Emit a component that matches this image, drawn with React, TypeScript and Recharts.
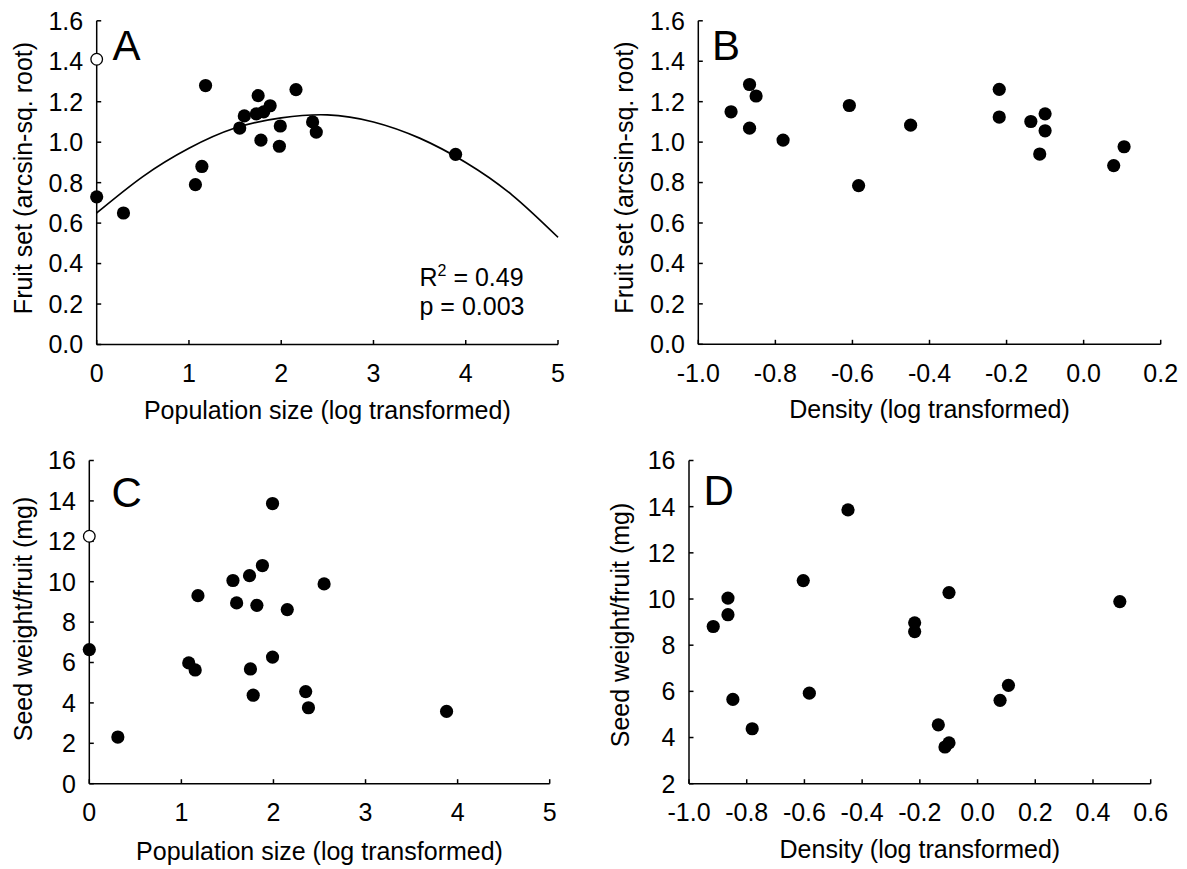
import React from 'react';
import { ComposedChart, Scatter, Line, XAxis, YAxis, Label, Customized } from 'recharts';

const FONT = '"Liberation Sans", Arial, Helvetica, sans-serif';
const FS = 25;

// ---------- Panel A: fruit set vs population size ----------
const popSizeA = [0, 0.29, 1.07, 1.14, 1.18, 1.55, 1.6, 1.75, 1.73, 1.81, 1.88, 1.78, 1.99, 1.98, 2.16, 2.34, 2.38, 3.89];
const fruitSetA = [0.73, 0.65, 0.79, 0.88, 1.28, 1.07, 1.13, 1.23, 1.14, 1.15, 1.18, 1.01, 1.08, 0.98, 1.26, 1.1, 1.05, 0.94];
const outlierPopSizeA = [0];
const outlierFruitSetA = [1.41];
// fitted quadratic curve
const fitPopSize = [0, 0.5, 1, 1.5, 2, 2.5, 3, 3.5, 4, 4.5, 5];
const fitFruitSet = [0.65, 0.83, 0.97, 1.07, 1.12, 1.135, 1.1, 1.02, 0.9, 0.74, 0.53];

// ---------- Panel B: fruit set vs density ----------
const densityB = [-0.915, -0.867, -0.85, -0.867, -0.78, -0.608, -0.584, -0.449, -0.219, -0.219, -0.137, -0.1, -0.1, -0.114, 0.078, 0.105];
const fruitSetB = [1.15, 1.285, 1.228, 1.069, 1.01, 1.181, 0.785, 1.084, 1.261, 1.124, 1.102, 1.14, 1.056, 0.941, 0.884, 0.977];

// ---------- Panel C: seed weight vs population size ----------
const popSizeC = [0, 0.31, 1.08, 1.15, 1.18, 1.56, 1.6, 1.74, 1.88, 1.82, 1.75, 1.78, 1.99, 1.99, 2.15, 2.55, 2.35, 2.38, 3.88];
const seedWeightC = [6.64, 2.31, 5.98, 5.63, 9.31, 10.06, 8.95, 10.3, 10.8, 8.83, 5.68, 4.38, 13.87, 6.27, 8.62, 9.89, 4.56, 3.76, 3.58];
const outlierPopSizeC = [0];
const outlierSeedWeightC = [12.25];

// ---------- Panel D: seed weight vs density ----------
const densityD = [-0.916, -0.865, -0.865, -0.848, -0.781, -0.604, -0.583, -0.449, -0.218, -0.218, -0.099, -0.136, -0.113, -0.099, 0.078, 0.107, 0.493];
const seedWeightD = [8.81, 10.04, 9.32, 5.65, 4.38, 10.8, 5.92, 13.86, 8.97, 8.59, 10.28, 4.55, 3.59, 3.77, 5.61, 6.26, 9.89];

// ---------- ticks ----------
const popTicks = [0, 1, 2, 3, 4, 5];
const fruitTicks = [0, 0.2, 0.4, 0.6, 0.8, 1.0, 1.2, 1.4, 1.6];
const densityTicksB = [-1.0, -0.8, -0.6, -0.4, -0.2, 0, 0.2];
const densityTicksD = [-1.0, -0.8, -0.6, -0.4, -0.2, 0, 0.2, 0.4, 0.6];
const seedTicksC = [0, 2, 4, 6, 8, 10, 12, 14, 16];
const seedTicksD = [2, 4, 6, 8, 10, 12, 14, 16];

const zip = (xs: number[], ys: number[]) => xs.map((x, i) => ({ x, y: ys[i] }));

const FilledDot = (p: any) => <circle cx={p.cx} cy={p.cy} r={6.6} fill="#000" />;
const OpenDot = (p: any) => (
  <circle cx={p.cx} cy={p.cy} r={5.8} fill="#fff" stroke="#000" strokeWidth={1.3} />
);

const tickStyle = { fill: '#000', fontSize: FS, fontFamily: FONT };
const axisLineStyle = { stroke: '#000', strokeWidth: 1.5 };
const tickLineStyle = { stroke: '#000', strokeWidth: 1.5 };
const fmt1 = (v: number) => (Math.abs(v) < 1e-9 ? '0.0' : v.toFixed(1));
const fmt0 = (v: number) => String(v);

type PanelProps = {
  left: number;
  top: number;
  width: number;
  height: number;
  plot: { L: number; R: number; T: number; B: number };
  xDomain: [number, number];
  xTicks: number[];
  xFmt: (v: number) => string;
  yDomain: [number, number];
  yTicks: number[];
  yFmt: (v: number) => string;
  xTitle: string;
  yTitle: string;
  xTitleBaseline: number;
  yTitleX: number;
  yTitleY: number;
  points: { x: number; y: number }[];
  open?: { x: number; y: number }[];
  fit?: { x: number; y: number }[];
  letter: string;
  letterX: number;
  letterY: number;
  stats?: boolean;
};

function Panel(p: PanelProps) {
  const yAxisWidth = p.plot.L - p.left;
  const xAxisHeight = p.top + p.height - p.plot.B;
  const margin = { top: p.plot.T - p.top, right: p.left + p.width - p.plot.R, left: 0, bottom: 0 };
  const yCenterX = p.left + yAxisWidth / 2;
  const yCenterY = (p.plot.T + p.plot.B) / 2;
  const Extra = () => (
    <g>
      <text
        x={p.letterX - p.left}
        y={p.letterY - p.top}
        fontSize={42}
        fontFamily={FONT}
        fill="#000"
      >
        {p.letter}
      </text>
      {p.stats ? (
        <g>
          <text x={419.5 - p.left} y={286 - p.top} fontSize={FS} fontFamily={FONT} fill="#000">
            R
            <tspan fontSize={16} dy={-10}>
              2
            </tspan>
            <tspan fontSize={FS} dy={10}>
              {' = 0.49'}
            </tspan>
          </text>
          <text x={419.5 - p.left} y={315 - p.top} fontSize={FS} fontFamily={FONT} fill="#000">
            p = 0.003
          </text>
        </g>
      ) : null}
    </g>
  );
  return (
    <div style={{ position: 'absolute', left: p.left, top: p.top, width: p.width, height: p.height }}>
      <ComposedChart width={p.width} height={p.height} margin={margin}>
        <XAxis
          type="number"
          dataKey="x"
          domain={p.xDomain}
          ticks={p.xTicks}
          interval={0}
          tickFormatter={p.xFmt}
          tick={tickStyle}
          tickSize={-4.5}
          tickMargin={24.5}
          axisLine={axisLineStyle}
          tickLine={tickLineStyle}
          height={xAxisHeight}
          allowDecimals
        >
          <Label
            value={p.xTitle}
            position="insideBottom"
            offset={p.top + p.height - p.xTitleBaseline}
            fill="#000"
            fontSize={FS}
            fontFamily={FONT}
          />
        </XAxis>
        <YAxis
          type="number"
          dataKey="y"
          domain={p.yDomain}
          ticks={p.yTicks}
          interval={0}
          tickFormatter={p.yFmt}
          tick={tickStyle}
          tickSize={-4.5}
          tickMargin={18}
          axisLine={axisLineStyle}
          tickLine={tickLineStyle}
          width={yAxisWidth}
        >
          <Label
            value={p.yTitle}
            position="center"
            angle={-90}
            dx={p.yTitleX - yCenterX}
            dy={p.yTitleY - yCenterY}
            fill="#000"
            fontSize={FS}
            fontFamily={FONT}
          />
        </YAxis>
        {p.fit ? (
          <Line
            data={p.fit}
            dataKey="y"
            type="natural"
            stroke="#000"
            strokeWidth={1.7}
            dot={false}
            activeDot={false}
            isAnimationActive={false}
          />
        ) : null}
        <Scatter data={p.points} dataKey="y" shape={FilledDot} isAnimationActive={false} />
        {p.open ? <Scatter data={p.open} dataKey="y" shape={OpenDot} isAnimationActive={false} /> : null}
        <Customized component={Extra} />
      </ComposedChart>
    </div>
  );
}

export default function App() {
  return (
    <div
      style={{
        position: 'absolute',
        left: 0,
        top: 0,
        width: 1187,
        height: 869,
        background: '#fff',
        overflow: 'hidden',
      }}
    >
      <Panel
        left={0}
        top={0}
        width={590}
        height={430}
        plot={{ L: 96.7, R: 558, T: 20.8, B: 344.5 }}
        xDomain={[0, 5]}
        xTicks={popTicks}
        xFmt={fmt0}
        yDomain={[0, 1.6]}
        yTicks={fruitTicks}
        yFmt={fmt1}
        xTitle="Population size (log transformed)"
        yTitle="Fruit set (arcsin-sq. root)"
        xTitleBaseline={418.5}
        yTitleX={23}
        yTitleY={178}
        points={zip(popSizeA, fruitSetA)}
        open={zip(outlierPopSizeA, outlierFruitSetA)}
        fit={zip(fitPopSize, fitFruitSet)}
        letter="A"
        letterX={112.6}
        letterY={60}
        stats
      />
      <Panel
        left={590}
        top={0}
        width={597}
        height={430}
        plot={{ L: 698.3, R: 1160.7, T: 20.8, B: 344.3 }}
        xDomain={[-1, 0.2]}
        xTicks={densityTicksB}
        xFmt={fmt1}
        yDomain={[0, 1.6]}
        yTicks={fruitTicks}
        yFmt={fmt1}
        xTitle="Density (log transformed)"
        yTitle="Fruit set (arcsin-sq. root)"
        xTitleBaseline={418.3}
        yTitleX={624}
        yTitleY={177.5}
        points={zip(densityB, fruitSetB)}
        letter="B"
        letterX={712}
        letterY={60}
      />
      <Panel
        left={0}
        top={430}
        width={590}
        height={439}
        plot={{ L: 89.3, R: 549.7, T: 460.5, B: 783.7 }}
        xDomain={[0, 5]}
        xTicks={popTicks}
        xFmt={fmt0}
        yDomain={[0, 16]}
        yTicks={seedTicksC}
        yFmt={fmt0}
        xTitle="Population size (log transformed)"
        yTitle="Seed weight/fruit (mg)"
        xTitleBaseline={860}
        yTitleX={23}
        yTitleY={619}
        points={zip(popSizeC, seedWeightC)}
        open={zip(outlierPopSizeC, outlierSeedWeightC)}
        letter="C"
        letterX={111.4}
        letterY={507}
      />
      <Panel
        left={590}
        top={430}
        width={597}
        height={439}
        plot={{ L: 689, R: 1150.7, T: 460.5, B: 783.7 }}
        xDomain={[-1, 0.6]}
        xTicks={densityTicksD}
        xFmt={fmt1}
        yDomain={[2, 16]}
        yTicks={seedTicksD}
        yFmt={fmt0}
        xTitle="Density (log transformed)"
        yTitle="Seed weight/fruit (mg)"
        xTitleBaseline={858}
        yTitleX={620.5}
        yTitleY={625}
        points={zip(densityD, seedWeightD)}
        letter="D"
        letterX={703.6}
        letterY={505}
      />
    </div>
  );
}
